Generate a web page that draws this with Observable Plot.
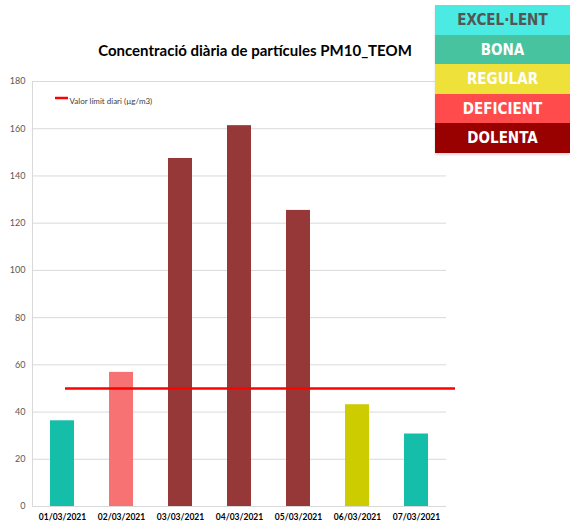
<!DOCTYPE html>
<html>
<head>
<meta charset="utf-8">
<script src="https://cdn.jsdelivr.net/npm/d3@7"></script>
<script src="https://cdn.jsdelivr.net/npm/@observablehq/plot@0.6"></script>
<style>
  html, body { margin: 0; padding: 0; background: #fff; }
  #wrap { position: relative; width: 570px; height: 524px; overflow: hidden; }
  #title { position: absolute; left: 0; width: 510px; top: 41px; text-align: center;
    font-family: Lato, "Open Sans", sans-serif; font-weight: bold; font-size: 15px; color: #000; }
  #quality { position: absolute; left: 435px; top: 5px; width: 135px;
    box-shadow: 0 2px 2px rgba(0,0,0,0.15); }
  #quality div { height: 29.6px; line-height: 30px; text-align: center;
    font-family: "DejaVu Sans Condensed", "DejaVu Sans", sans-serif; font-stretch: condensed;
    font-weight: bold; font-size: 15px; color: #fff; }
</style>
</head>
<body>
<div id="wrap">
  <div id="chart"></div>
  <div id="title"></div>
  <div id="quality"></div>
</div>
<script>
const dates = ["01/03/2021","02/03/2021","03/03/2021","04/03/2021","05/03/2021","06/03/2021","07/03/2021"];
const values = [36.3, 56.8, 147.4, 161.3, 125.4, 43.1, 30.7];
const barColors = ["#14BEA9","#F77272","#963838","#963838","#963838","#CCCC00","#14BEA9"];
const limitValue = 50;
const limitLabel = "Valor límit diari (µg/m3)";
const yTicks = [0,20,40,60,80,100,120,140,160,180];
const titleText = "Concentració diària de partícules PM10_TEOM";
const qualityLabels = ["EXCEL·LENT","BONA","REGULAR","DEFICIENT","DOLENTA"];
const qualityColors = ["#4BEAE2","#47C3A0","#EDE13A","#FF4B4B","#990000"];
const qualityText = ["#555555","#ffffff","#ffffff","#ffffff","#ffffff"];

const data = dates.map((d, i) => ({date: d, value: values[i], color: barColors[i]}));

const chart = Plot.plot({
  width: 570,
  height: 524,
  marginLeft: 32,
  marginRight: 124,
  marginTop: 81,
  marginBottom: 18,
  style: {fontFamily: "Lato, 'Open Sans', sans-serif", background: "#fff"},
  x: {domain: dates, paddingInner: 0.6, paddingOuter: 0.3, axis: null},
  y: {domain: [0, 180], ticks: yTicks, axis: null},
  marks: [
    Plot.gridY(yTicks, {stroke: "#d9d9d9", strokeOpacity: 1, strokeWidth: 1}),
    Plot.frame({anchor: "left", stroke: "#d9d9d9", strokeOpacity: 1}),
    Plot.barY(data, {x: "date", y: "value", fill: "color"}),
    Plot.ruleY([limitValue], {stroke: "#FF0000", strokeWidth: 2.5, insetLeft: 33, insetRight: -9}),
    Plot.axisY(yTicks, {tickSize: 0, tickPadding: 7, fontSize: 9, fill: "#595959", label: null}),
    Plot.axisX(dates, {tickSize: 0, tickPadding: 7, fontSize: 8.5, fontWeight: "bold", fill: "#000", label: null}),
    Plot.text([limitLabel], {frameAnchor: "top-left", dx: 37, dy: 17, fontSize: 8, fill: "#404040", textAnchor: "start"})
  ]
});
document.getElementById("chart").append(chart);

// legend line swatch for limit series, drawn in the plot's own SVG
const svg = d3.select(chart);
svg.append("line")
  .attr("x1", 55).attr("x2", 68).attr("y1", 98).attr("y2", 98)
  .attr("stroke", "#FF0000").attr("stroke-width", 2.5);

document.getElementById("title").textContent = titleText;
const q = d3.select("#quality");
q.selectAll("div").data(qualityLabels).join("div")
  .style("background", (d, i) => qualityColors[i])
  .style("color", (d, i) => qualityText[i])
  .text(d => d);
</script>
</body>
</html>
